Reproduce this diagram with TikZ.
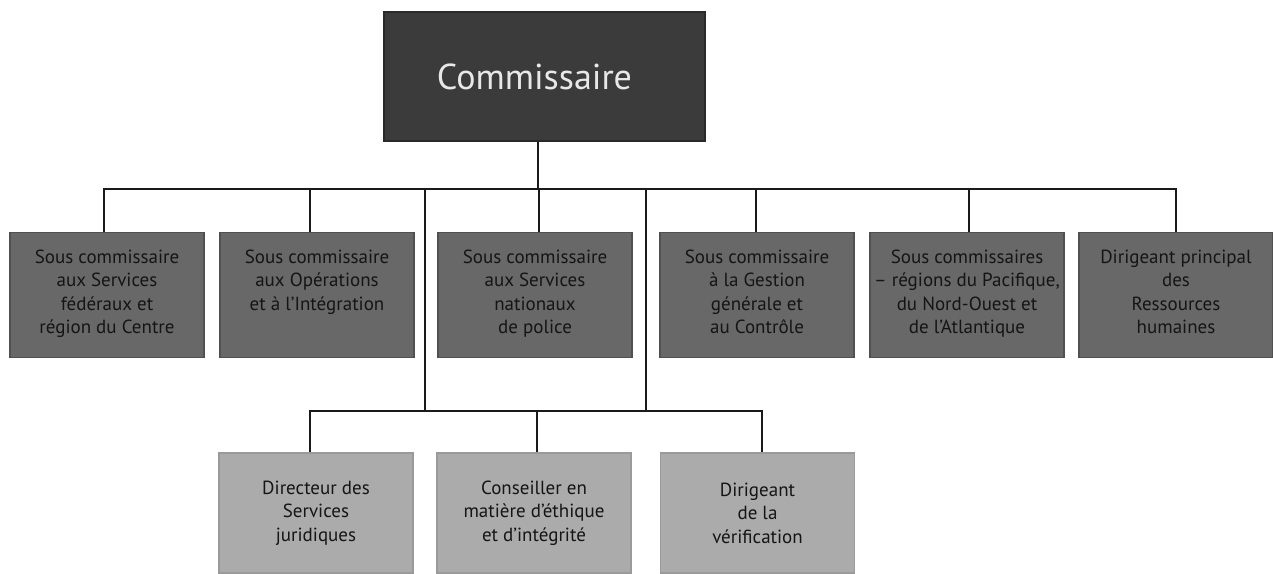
\documentclass[tikz,border=0pt]{standalone}
\usepackage{fontspec}
\setmainfont{PT Sans}
\definecolor{topfill}{HTML}{3B3B3B}
\definecolor{topdraw}{HTML}{2A2A2A}
\definecolor{midfill}{HTML}{686868}
\definecolor{middraw}{HTML}{505050}
\definecolor{lowfill}{HTML}{ABABAB}
\definecolor{lowdraw}{HTML}{9A9A9A}
\definecolor{linecol}{HTML}{1A1A1A}
\definecolor{toptext}{HTML}{E8E8E8}
\definecolor{boxtxt}{HTML}{151515}
\begin{document}
\begin{tikzpicture}[x=1pt,y=-1pt,
  topbox/.style={draw=topdraw,fill=topfill,line width=1.5pt,minimum width=321pt,minimum height=129pt,inner sep=0pt,
    text=toptext,font=\fontsize{36}{40}\selectfont},
  midbox/.style={draw=middraw,fill=midfill,line width=1.5pt,minimum width=194pt,minimum height=125pt,inner sep=0pt},
  lowbox/.style={draw=lowdraw,fill=lowfill,line width=1.5pt,minimum width=194pt,minimum height=120pt,inner sep=0pt,
    align=center,text=boxtxt,font=\fontsize{19}{23.5}\selectfont},
  boxtext/.style={anchor=north,inner sep=0pt,align=center,text=boxtxt,font=\fontsize{19}{23.5}\selectfont},
  conn/.style={draw=linecol,line width=2.6pt}]
\useasboundingbox (0,0) rectangle (1273,573);

% top box
\node[topbox] (com) at (544.5,76.5) {\hspace*{-20pt}Commissaire};

% second row boxes
\node[midbox] (u1) at (107,295) {};
\node[midbox] (u2) at (317,295) {};
\node[midbox] (u3) at (535,295) {};
\node[midbox] (u4) at (757,295) {};
\node[midbox] (u5) at (967,295) {};
\node[midbox] (u6) at (1176,295) {};

\node[boxtext] (t1) at ([yshift=-18pt]u1.north) {Sous commissaire\\aux Services\\fédéraux et\\région du Centre};
\node[boxtext] (t2) at ([yshift=-18pt]u2.north) {Sous commissaire\\aux Opérations\\et à l’Intégration};
\node[boxtext] (t3) at ([yshift=-18pt]u3.north) {Sous commissaire\\aux Services\\nationaux\\de police};
\node[boxtext] (t4) at ([yshift=-18pt]u4.north) {Sous commissaire\\à la Gestion\\générale et\\au Contrôle};
\node[boxtext] (t5) at ([yshift=-18pt]u5.north) {Sous commissaires\\– régions du Pacifique,\\du Nord-Ouest et\\de l’Atlantique};
\node[boxtext] (t6) at ([yshift=-18pt]u6.north) {Dirigeant principal\\des\\Ressources\\humaines};

% third row boxes
\node[lowbox] (l1) at (316,513) {Directeur des\\Services\\juridiques};
\node[lowbox] (l2) at (534,513) {Conseiller en\\matière d’éthique\\et d’intégrité};
\node[lowbox] (l3) at (757.5,513) {Dirigeant\\de la\\vérification};

% bus coordinates
\coordinate (bus) at (0,189);
\coordinate (lbus) at (0,411);
\coordinate (j1) at (425,189);
\coordinate (j2) at (646,189);

% connectors top
\draw[conn] ([xshift=-6.5pt]com.south) -- ([xshift=-6.5pt]com.south |- bus);
\draw[conn,line cap=rect] ([xshift=-3pt]u1.north |- bus) -- (u6.north |- bus);
\draw[conn] ([xshift=-3pt]u1.north) -- ([xshift=-3pt]u1.north |- bus);
\draw[conn] ([xshift=-7pt]u2.north) -- ([xshift=-7pt]u2.north |- bus);
\draw[conn] ([xshift=4pt]u3.north) -- ([xshift=4pt]u3.north |- bus);
\draw[conn] ([xshift=-1pt]u4.north) -- ([xshift=-1pt]u4.north |- bus);
\draw[conn] ([xshift=2pt]u5.north) -- ([xshift=2pt]u5.north |- bus);
\draw[conn] (u6.north) -- (u6.north |- bus);

% long drops to lower bus
\draw[conn] (j1) -- (j1 |- lbus);
\draw[conn] (j2) -- (j2 |- lbus);
\draw[conn,line cap=rect] ([xshift=-6pt]l1.north |- lbus) -- ([xshift=4.5pt]l3.north |- lbus);
\draw[conn] ([xshift=-6pt]l1.north) -- ([xshift=-6pt]l1.north |- lbus);
\draw[conn] ([xshift=3pt]l2.north) -- ([xshift=3pt]l2.north |- lbus);
\draw[conn] ([xshift=4.5pt]l3.north) -- ([xshift=4.5pt]l3.north |- lbus);
\end{tikzpicture}
\end{document}
